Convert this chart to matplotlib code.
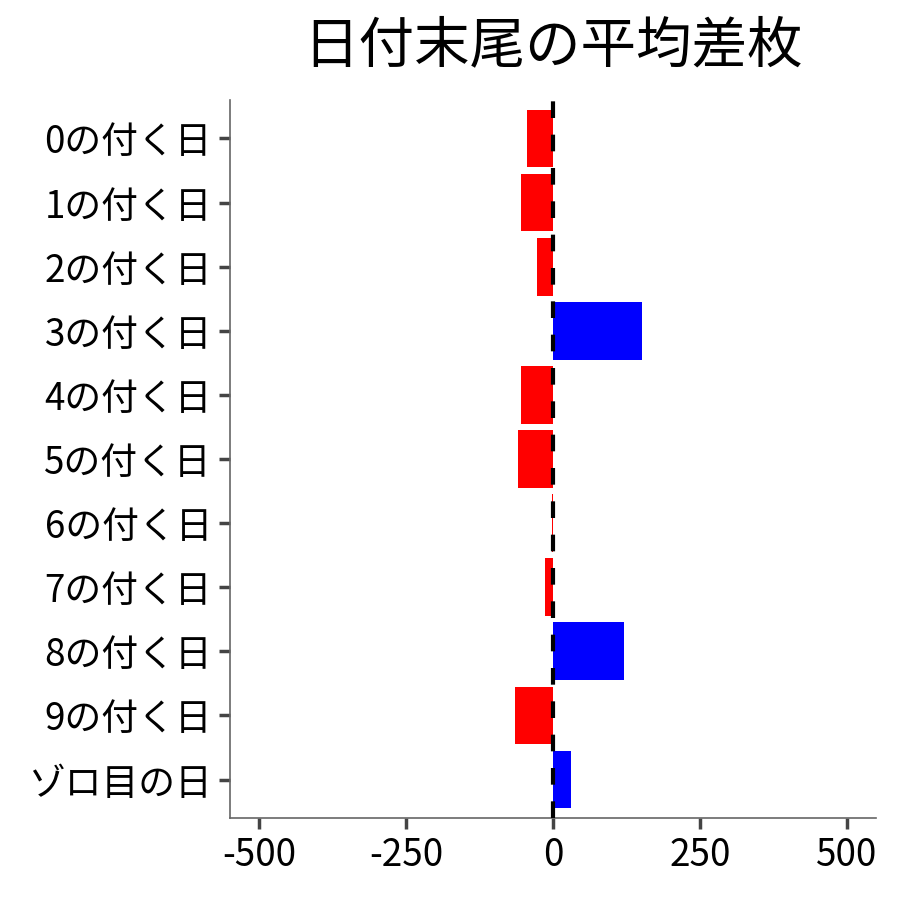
import matplotlib.pyplot as plt

plt.rcParams['font.family'] = ['Noto Sans CJK JP', 'DejaVu Sans']

labels = ["0の付く日", "1の付く日", "2の付く日", "3の付く日", "4の付く日",
          "5の付く日", "6の付く日", "7の付く日", "8の付く日", "9の付く日",
          "ゾロ目の日"]
values = [-44, -55, -27, 151, -55, -60, -1, -14, 121, -65, 31]
xticks = [-500, -250, 0, 250, 500]

colors = ["blue" if v > 0 else "red" for v in values]
ypos = list(range(len(labels)))

fig = plt.figure(figsize=(9, 9), dpi=100)
ax = fig.add_axes([230 / 900, 82 / 900, 646 / 900, 718 / 900])

ax.barh(ypos, values, height=0.9, color=colors, zorder=2)
ax.axvline(0, color="black", linestyle=(0, (4, 4)), linewidth=3, zorder=3)

ax.set_xlim(-550, 550)
ax.set_ylim(len(labels) - 1 + 0.6, -0.6)
ax.set_xticks(xticks)
ax.set_xticklabels([str(t) for t in xticks])
ax.set_yticks(ypos)
ax.set_yticklabels(labels)

for s in ["top", "right"]:
    ax.spines[s].set_visible(False)
for s in ["left", "bottom"]:
    ax.spines[s].set_color("#666666")
    ax.spines[s].set_linewidth(1.2)
ax.tick_params(axis="both", length=8, width=2.5, color="#444444",
               labelsize=26.5, labelcolor="black", pad=5)

fig.text(553 / 900, 1 - 46 / 900, "日付末尾の平均差枚", ha="center", va="center",
         fontsize=40)

fig.savefig("out.png", dpi=100)
